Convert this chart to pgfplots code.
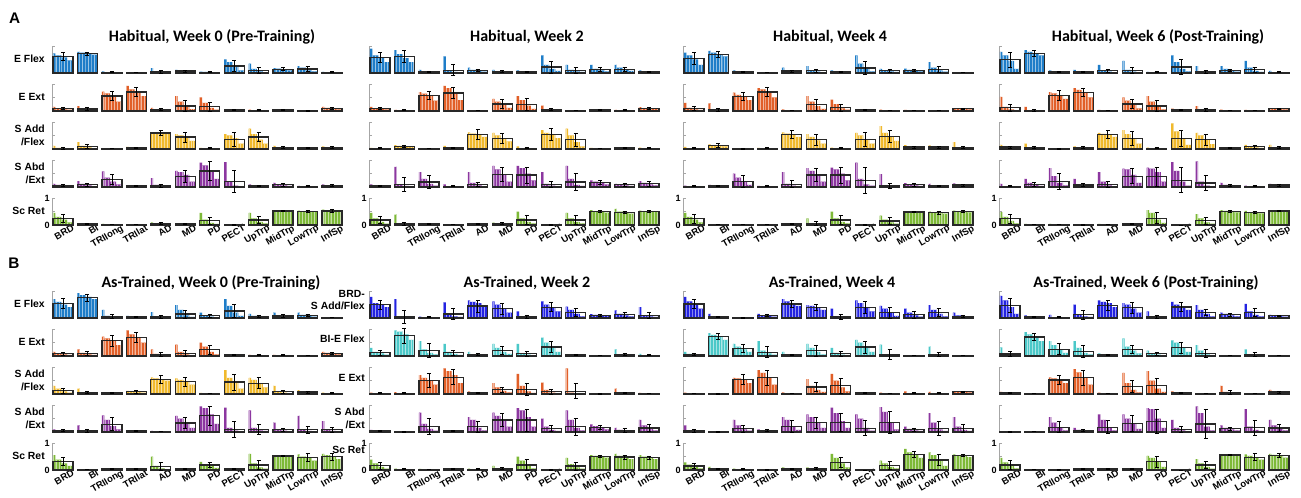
\documentclass[border=0pt]{standalone}
\usepackage{pgfplots}
\pgfplotsset{compat=1.18}
\usepackage{pgfplotstable}
\usetikzlibrary{patterns.meta}
\usepackage{fontspec}
\setmainfont{Liberation Sans}
\newfontfamily\calibri{Carlito}
\definecolor{cBlue}{RGB}{30,125,200}
\definecolor{cOrange}{RGB}{225,95,40}
\definecolor{cYellow}{RGB}{240,185,45}
\definecolor{cPurple}{RGB}{140,55,160}
\definecolor{cGreen}{RGB}{125,185,55}
\definecolor{cDBlue}{RGB}{35,35,225}
\definecolor{cCyan}{RGB}{75,200,200}
\definecolor{boxc}{RGB}{40,40,40}
\pgfplotsset{
 smallax/.style={scale only axis, width=218.25pt, height=20.25pt,
  xmin=0.55, xmax=12.45, ymin=0, ymax=1, anchor=south west, clip=false,
  axis y line*=left, axis x line*=bottom, x axis line style={draw=none},
  xtick={1,...,12}, xticklabels={}, ytick={0,0.5,1}, yticklabels={},
  tick align=inside, major tick length=2.2pt,
  x tick style={draw=none}, y tick style={draw=gray!70, line width=0.5pt},
  y axis line style={draw=gray!70, line width=0.5pt}},
 bottomrow/.style={xticklabels={BRD,BI,TRIlong,TRIlat,AD,MD,PD,PECT,UpTrp,MidTrp,LowTrp,InfSp},
  xticklabel style={rotate=30, anchor=north east, font=\fontsize{7.1}{8}\selectfont\bfseries, inner sep=1pt, xshift=7pt, yshift=-1.5pt},
  yticklabels={0,{},1}, yticklabel style={font=\fontsize{6.8}{8}\selectfont\bfseries, inner sep=1.5pt}},
 subbar/.style={ybar, draw=none, fill=#1, postaction={pattern={Lines[angle=90,distance=2.2pt,line width=0.25pt]}, pattern color=#1!45!white}}
}
\newcommand{\sax}[5]{%
\begin{axis}[smallax, at={(#1pt,#2pt)}, #5]
\addplot[subbar=#3, bar width=0.1, bar shift=-0.36] table[x expr=\coordindex+1, y=a]{#4};
\addplot[subbar=#3, bar width=0.24, bar shift=-0.19] table[x expr=\coordindex+1, y=b]{#4};
\addplot[subbar=#3, bar width=0.24, bar shift=0.05] table[x expr=\coordindex+1, y=c]{#4};
\addplot[subbar=#3, bar width=0.24, bar shift=0.29] table[x expr=\coordindex+1, y=d]{#4};
\addplot[ybar, bar width=0.82, bar shift=0, fill=none, draw=boxc, line width=0.95pt] table[x expr=\coordindex+1, y=m]{#4};
\addplot[mark=none, draw=none, error bars/.cd, y dir=both, y explicit,
  error bar style={draw=black, line width=0.6pt},
  error mark options={rotate=90, mark size=1.5pt, draw=black, line width=0.6pt}]
  table[x expr=\coordindex+1, y=m, y error=e]{#4};
\end{axis}}
\begin{document}
% ---------------- Panel A ----------------
\pgfplotstableread{
a b c d m e
0.73 0.65 0.58 0.47 0.60 0.15
0.78 0.75 0.72 0.68 0.72 0.05
0.06 0.03 0.02 0.01 0.03 0.02
0.03 0.02 0.01 0.01 0.02 0.01
0.18 0.05 0.03 0.02 0.04 0.04
0.12 0.09 0.06 0.04 0.07 0.03
0.05 0.04 0.03 0.02 0.03 0.02
0.50 0.40 0.22 0.10 0.26 0.19
0.35 0.15 0.06 0.03 0.10 0.10
0.18 0.16 0.13 0.10 0.14 0.05
0.25 0.20 0.10 0.06 0.15 0.08
0.04 0.03 0.02 0.01 0.03 0.02
}\tAaa
\pgfplotstableread{
a b c d m e
0.15 0.08 0.06 0.05 0.10 0.04
0.18 0.10 0.05 0.03 0.07 0.05
0.72 0.65 0.55 0.35 0.56 0.17
0.93 0.80 0.70 0.55 0.70 0.17
0.12 0.06 0.04 0.03 0.06 0.03
0.55 0.35 0.15 0.07 0.19 0.20
0.50 0.30 0.12 0.05 0.16 0.17
0.05 0.04 0.03 0.02 0.04 0.02
0.05 0.03 0.02 0.01 0.03 0.02
0.05 0.04 0.03 0.02 0.04 0.02
0.03 0.02 0.01 0.01 0.02 0.02
0.15 0.12 0.10 0.06 0.10 0.04
}\tAab
\pgfplotstableread{
a b c d m e
0.12 0.04 0.02 0.01 0.03 0.03
0.25 0.12 0.06 0.03 0.10 0.08
0.03 0.02 0.01 0.01 0.02 0.01
0.08 0.05 0.03 0.02 0.04 0.02
0.62 0.60 0.58 0.55 0.59 0.10
0.55 0.50 0.42 0.30 0.44 0.18
0.04 0.03 0.02 0.01 0.03 0.02
0.55 0.50 0.40 0.20 0.36 0.27
0.75 0.55 0.35 0.20 0.44 0.17
0.12 0.06 0.04 0.02 0.05 0.03
0.06 0.04 0.03 0.02 0.04 0.02
0.10 0.05 0.03 0.02 0.05 0.03
}\tAac
\pgfplotstableread{
a b c d m e
0.12 0.08 0.05 0.03 0.06 0.04
0.22 0.12 0.06 0.03 0.08 0.06
0.58 0.35 0.20 0.10 0.28 0.20
0.05 0.04 0.03 0.02 0.04 0.02
0.33 0.08 0.03 0.02 0.05 0.05
0.60 0.55 0.45 0.20 0.40 0.22
0.90 0.80 0.60 0.30 0.59 0.35
0.92 0.20 0.05 0.02 0.21 0.41
0.10 0.05 0.03 0.02 0.04 0.03
0.15 0.10 0.06 0.04 0.08 0.04
0.04 0.03 0.02 0.02 0.03 0.02
0.10 0.06 0.04 0.03 0.05 0.03
}\tAad
\pgfplotstableread{
a b c d m e
0.45 0.30 0.20 0.10 0.23 0.15
0.05 0.04 0.03 0.02 0.04 0.01
0.04 0.03 0.02 0.02 0.03 0.01
0.03 0.02 0.01 0.01 0.02 0.01
0.10 0.06 0.04 0.03 0.05 0.03
0.07 0.05 0.03 0.02 0.04 0.02
0.45 0.20 0.08 0.04 0.16 0.13
0.02 0.01 0.01 0.01 0.01 0.01
0.45 0.25 0.12 0.06 0.19 0.14
0.54 0.53 0.52 0.50 0.52 0.03
0.53 0.51 0.50 0.48 0.50 0.03
0.57 0.54 0.52 0.49 0.52 0.04
}\tAae
\pgfplotstableread{
a b c d m e
0.90 0.65 0.55 0.40 0.57 0.18
0.85 0.70 0.55 0.40 0.60 0.22
0.12 0.04 0.03 0.02 0.04 0.02
0.62 0.08 0.04 0.02 0.10 0.20
0.20 0.12 0.08 0.05 0.10 0.05
0.12 0.07 0.05 0.03 0.06 0.03
0.10 0.06 0.04 0.03 0.05 0.02
0.65 0.30 0.15 0.08 0.22 0.22
0.30 0.12 0.06 0.04 0.10 0.10
0.30 0.15 0.10 0.06 0.12 0.07
0.30 0.20 0.12 0.08 0.14 0.08
0.10 0.04 0.03 0.02 0.04 0.02
}\tAba
\pgfplotstableread{
a b c d m e
0.15 0.10 0.08 0.06 0.10 0.04
0.04 0.03 0.02 0.02 0.03 0.02
0.70 0.64 0.58 0.38 0.58 0.16
0.93 0.85 0.70 0.40 0.67 0.20
0.03 0.03 0.02 0.02 0.03 0.01
0.45 0.35 0.25 0.12 0.26 0.17
0.55 0.40 0.20 0.08 0.23 0.22
0.20 0.06 0.04 0.02 0.06 0.04
0.02 0.02 0.01 0.01 0.02 0.01
0.06 0.04 0.03 0.02 0.04 0.02
0.04 0.03 0.02 0.02 0.03 0.02
0.14 0.11 0.09 0.07 0.10 0.04
}\tAbb
\pgfplotstableread{
a b c d m e
0.04 0.03 0.02 0.02 0.03 0.02
0.14 0.12 0.10 0.07 0.10 0.05
0.02 0.02 0.01 0.01 0.02 0.01
0.12 0.05 0.04 0.03 0.05 0.02
0.62 0.57 0.52 0.45 0.53 0.18
0.60 0.50 0.40 0.28 0.40 0.18
0.10 0.03 0.02 0.01 0.03 0.02
0.70 0.60 0.52 0.40 0.53 0.22
0.75 0.50 0.25 0.10 0.34 0.25
0.04 0.03 0.02 0.02 0.03 0.01
0.06 0.04 0.03 0.02 0.04 0.02
0.05 0.03 0.02 0.02 0.03 0.02
}\tAbc
\pgfplotstableread{
a b c d m e
0.10 0.05 0.03 0.02 0.04 0.02
0.75 0.10 0.04 0.02 0.10 0.26
0.55 0.30 0.12 0.05 0.19 0.24
0.10 0.03 0.02 0.01 0.03 0.02
0.55 0.15 0.06 0.03 0.10 0.08
0.78 0.65 0.45 0.20 0.46 0.25
0.78 0.70 0.50 0.25 0.44 0.30
0.55 0.12 0.05 0.03 0.10 0.10
0.78 0.30 0.08 0.04 0.19 0.33
0.25 0.20 0.15 0.10 0.18 0.08
0.12 0.08 0.06 0.04 0.08 0.04
0.22 0.15 0.10 0.06 0.12 0.08
}\tAbd
\pgfplotstableread{
a b c d m e
0.45 0.25 0.12 0.05 0.19 0.13
0.38 0.03 0.02 0.02 0.04 0.05
0.05 0.04 0.03 0.03 0.04 0.01
0.03 0.02 0.02 0.01 0.02 0.01
0.05 0.04 0.03 0.03 0.04 0.01
0.09 0.07 0.05 0.04 0.06 0.02
0.50 0.25 0.12 0.06 0.19 0.17
0.01 0.01 0.01 0.01 0.01 0.01
0.45 0.25 0.12 0.06 0.19 0.15
0.55 0.51 0.49 0.46 0.49 0.04
0.60 0.50 0.47 0.42 0.47 0.04
0.53 0.51 0.50 0.48 0.50 0.03
}\tAbe
\pgfplotstableread{
a b c d m e
0.75 0.65 0.50 0.30 0.54 0.23
0.82 0.75 0.70 0.62 0.69 0.10
0.10 0.05 0.03 0.02 0.04 0.02
0.03 0.02 0.01 0.01 0.02 0.01
0.20 0.10 0.05 0.03 0.07 0.04
0.25 0.10 0.05 0.03 0.08 0.07
0.10 0.04 0.02 0.02 0.04 0.02
0.65 0.35 0.15 0.06 0.19 0.25
0.15 0.10 0.06 0.04 0.08 0.04
0.16 0.12 0.09 0.06 0.10 0.04
0.40 0.20 0.10 0.05 0.13 0.10
0.03 0.02 0.02 0.01 0.02 0.01
}\tAca
\pgfplotstableread{
a b c d m e
0.30 0.12 0.06 0.04 0.10 0.08
0.28 0.03 0.02 0.01 0.04 0.06
0.68 0.60 0.52 0.40 0.54 0.15
0.85 0.80 0.70 0.50 0.70 0.17
0.06 0.02 0.01 0.01 0.02 0.01
0.55 0.35 0.18 0.08 0.23 0.20
0.42 0.25 0.10 0.05 0.13 0.13
0.06 0.04 0.03 0.02 0.04 0.02
0.05 0.03 0.02 0.02 0.03 0.01
0.04 0.03 0.02 0.02 0.03 0.01
0.02 0.02 0.01 0.01 0.02 0.01
0.10 0.09 0.08 0.06 0.08 0.03
}\tAcb
\pgfplotstableread{
a b c d m e
0.08 0.03 0.02 0.02 0.03 0.02
0.17 0.14 0.12 0.10 0.13 0.06
0.02 0.01 0.01 0.01 0.01 0.01
0.04 0.03 0.02 0.02 0.03 0.02
0.62 0.57 0.52 0.45 0.53 0.15
0.55 0.45 0.32 0.20 0.34 0.20
0.05 0.03 0.02 0.02 0.03 0.02
0.60 0.50 0.35 0.20 0.36 0.25
0.85 0.60 0.45 0.30 0.46 0.23
0.14 0.08 0.05 0.04 0.07 0.03
0.13 0.08 0.05 0.04 0.07 0.04
0.25 0.06 0.03 0.02 0.06 0.05
}\tAcc
\pgfplotstableread{
a b c d m e
0.05 0.03 0.02 0.02 0.03 0.02
0.08 0.06 0.04 0.03 0.05 0.02
0.50 0.35 0.18 0.08 0.21 0.22
0.04 0.03 0.02 0.02 0.03 0.02
0.55 0.12 0.05 0.03 0.10 0.13
0.70 0.60 0.45 0.20 0.44 0.25
0.72 0.65 0.50 0.25 0.44 0.30
0.90 0.30 0.10 0.05 0.24 0.47
0.48 0.04 0.02 0.01 0.04 0.08
0.14 0.10 0.06 0.04 0.08 0.04
0.12 0.04 0.03 0.02 0.04 0.02
0.13 0.08 0.06 0.04 0.07 0.03
}\tAcd
\pgfplotstableread{
a b c d m e
0.45 0.30 0.20 0.10 0.23 0.18
0.03 0.02 0.02 0.01 0.02 0.01
0.03 0.02 0.02 0.01 0.02 0.01
0.02 0.02 0.01 0.01 0.02 0.01
0.06 0.04 0.03 0.03 0.04 0.02
0.25 0.05 0.03 0.02 0.05 0.08
0.50 0.25 0.12 0.06 0.19 0.18
0.01 0.01 0.01 0.01 0.01 0.01
0.35 0.20 0.10 0.05 0.15 0.12
0.50 0.49 0.48 0.46 0.48 0.03
0.50 0.47 0.45 0.42 0.45 0.04
0.53 0.51 0.50 0.47 0.50 0.04
}\tAce
\pgfplotstableread{
a b c d m e
0.78 0.65 0.45 0.15 0.50 0.28
0.85 0.78 0.72 0.65 0.72 0.10
0.10 0.05 0.03 0.02 0.04 0.02
0.12 0.05 0.03 0.02 0.04 0.02
0.30 0.10 0.05 0.03 0.08 0.06
0.45 0.12 0.05 0.03 0.10 0.12
0.04 0.03 0.02 0.02 0.03 0.02
0.65 0.40 0.15 0.06 0.22 0.28
0.25 0.05 0.03 0.02 0.05 0.05
0.25 0.15 0.08 0.05 0.10 0.05
0.45 0.20 0.08 0.04 0.12 0.10
0.08 0.03 0.02 0.01 0.03 0.02
}\tAda
\pgfplotstableread{
a b c d m e
0.52 0.15 0.06 0.03 0.12 0.14
0.15 0.03 0.02 0.01 0.03 0.03
0.70 0.65 0.58 0.45 0.58 0.20
0.85 0.78 0.68 0.50 0.68 0.15
0.04 0.03 0.02 0.02 0.03 0.01
0.50 0.38 0.22 0.10 0.26 0.17
0.55 0.35 0.15 0.06 0.19 0.20
0.09 0.06 0.04 0.03 0.05 0.02
0.18 0.04 0.02 0.02 0.04 0.04
0.05 0.03 0.02 0.02 0.03 0.01
0.04 0.03 0.02 0.02 0.03 0.01
0.10 0.09 0.08 0.06 0.08 0.03
}\tAdb
\pgfplotstableread{
a b c d m e
0.15 0.08 0.05 0.03 0.07 0.04
0.20 0.05 0.03 0.02 0.05 0.03
0.02 0.01 0.01 0.01 0.01 0.01
0.10 0.07 0.05 0.04 0.06 0.03
0.60 0.56 0.52 0.45 0.53 0.15
0.70 0.55 0.40 0.20 0.40 0.27
0.05 0.03 0.02 0.02 0.03 0.02
0.95 0.65 0.40 0.15 0.40 0.30
0.60 0.50 0.35 0.18 0.34 0.20
0.06 0.04 0.03 0.02 0.04 0.02
0.15 0.10 0.06 0.04 0.08 0.05
0.15 0.06 0.03 0.02 0.05 0.04
}\tAdc
\pgfplotstableread{
a b c d m e
0.12 0.03 0.02 0.02 0.03 0.02
0.30 0.15 0.08 0.04 0.10 0.06
0.70 0.40 0.15 0.06 0.21 0.29
0.30 0.10 0.05 0.03 0.07 0.06
0.55 0.20 0.06 0.03 0.10 0.12
0.68 0.65 0.45 0.15 0.40 0.28
0.72 0.68 0.55 0.20 0.38 0.35
0.92 0.60 0.20 0.05 0.25 0.46
0.95 0.20 0.05 0.03 0.15 0.27
0.15 0.08 0.05 0.04 0.06 0.04
0.05 0.03 0.02 0.02 0.03 0.02
0.12 0.08 0.06 0.04 0.07 0.03
}\tAdd
\pgfplotstableread{
a b c d m e
0.48 0.30 0.15 0.06 0.23 0.17
0.04 0.03 0.03 0.02 0.03 0.01
0.04 0.02 0.02 0.01 0.02 0.01
0.02 0.01 0.01 0.01 0.01 0.01
0.04 0.03 0.03 0.02 0.03 0.01
0.07 0.05 0.03 0.02 0.04 0.02
0.55 0.45 0.20 0.08 0.25 0.20
0.01 0.00 0.00 0.00 0.00 0.00
0.40 0.25 0.10 0.05 0.16 0.13
0.55 0.52 0.50 0.47 0.50 0.04
0.52 0.48 0.46 0.43 0.47 0.04
0.55 0.53 0.52 0.50 0.52 0.03
}\tAde
% ---------------- Panel B ----------------
\pgfplotstableread{
a b c d m e
0.70 0.60 0.50 0.40 0.54 0.17
0.92 0.85 0.78 0.70 0.75 0.12
0.30 0.08 0.03 0.02 0.05 0.07
0.08 0.05 0.03 0.02 0.04 0.03
0.22 0.06 0.03 0.02 0.05 0.06
0.48 0.30 0.10 0.04 0.15 0.15
0.20 0.10 0.05 0.03 0.08 0.05
0.70 0.45 0.20 0.08 0.26 0.24
0.15 0.08 0.04 0.03 0.06 0.03
0.20 0.08 0.05 0.03 0.07 0.06
0.20 0.12 0.08 0.05 0.10 0.05
0.03 0.02 0.01 0.01 0.02 0.01
}\tBaa
\pgfplotstableread{
a b c d m e
0.15 0.10 0.06 0.04 0.08 0.04
0.25 0.12 0.06 0.04 0.10 0.06
0.72 0.65 0.55 0.40 0.57 0.20
0.95 0.80 0.68 0.50 0.69 0.19
0.25 0.08 0.04 0.02 0.06 0.06
0.42 0.15 0.06 0.03 0.10 0.12
0.50 0.35 0.15 0.06 0.23 0.17
0.05 0.04 0.03 0.02 0.04 0.02
0.04 0.03 0.02 0.02 0.03 0.02
0.04 0.03 0.02 0.02 0.03 0.02
0.02 0.02 0.01 0.01 0.02 0.01
0.15 0.12 0.09 0.06 0.10 0.04
}\tBab
\pgfplotstableread{
a b c d m e
0.30 0.20 0.10 0.05 0.12 0.10
0.20 0.05 0.03 0.02 0.05 0.04
0.05 0.04 0.03 0.02 0.04 0.02
0.12 0.09 0.07 0.05 0.08 0.04
0.62 0.58 0.55 0.50 0.55 0.15
0.58 0.52 0.45 0.35 0.46 0.17
0.04 0.03 0.02 0.02 0.03 0.01
0.88 0.60 0.40 0.20 0.44 0.30
0.60 0.52 0.40 0.25 0.40 0.20
0.30 0.10 0.05 0.03 0.08 0.06
0.14 0.08 0.05 0.04 0.07 0.04
0.05 0.03 0.02 0.02 0.03 0.02
}\tBac
\pgfplotstableread{
a b c d m e
0.10 0.07 0.05 0.03 0.06 0.03
0.25 0.06 0.03 0.02 0.05 0.05
0.62 0.45 0.22 0.10 0.29 0.24
0.05 0.04 0.03 0.02 0.04 0.02
0.04 0.03 0.02 0.02 0.03 0.01
0.60 0.50 0.30 0.15 0.33 0.20
0.95 0.88 0.65 0.30 0.60 0.36
0.90 0.15 0.05 0.03 0.10 0.30
0.80 0.15 0.06 0.04 0.10 0.20
0.35 0.10 0.05 0.03 0.08 0.06
0.60 0.08 0.04 0.02 0.08 0.13
0.40 0.08 0.04 0.03 0.08 0.10
}\tBad
\pgfplotstableread{
a b c d m e
0.55 0.38 0.25 0.15 0.31 0.15
0.03 0.02 0.02 0.01 0.02 0.01
0.05 0.04 0.03 0.03 0.04 0.02
0.05 0.04 0.03 0.03 0.04 0.02
0.50 0.15 0.06 0.03 0.13 0.15
0.06 0.04 0.03 0.03 0.04 0.02
0.30 0.22 0.15 0.08 0.19 0.10
0.05 0.04 0.03 0.02 0.04 0.02
0.60 0.25 0.10 0.05 0.19 0.18
0.55 0.53 0.52 0.50 0.52 0.02
0.58 0.50 0.45 0.35 0.46 0.15
0.60 0.55 0.50 0.40 0.50 0.13
}\tBae
\pgfplotstableread{
a b c d m e
0.78 0.55 0.48 0.40 0.50 0.17
0.70 0.04 0.02 0.02 0.05 0.24
0.05 0.03 0.02 0.02 0.03 0.02
0.58 0.15 0.06 0.04 0.15 0.20
0.65 0.60 0.55 0.40 0.44 0.22
0.62 0.50 0.35 0.20 0.35 0.20
0.25 0.06 0.03 0.02 0.04 0.06
0.62 0.50 0.40 0.25 0.40 0.17
0.42 0.30 0.15 0.06 0.20 0.15
0.14 0.12 0.10 0.07 0.10 0.03
0.28 0.15 0.10 0.06 0.12 0.08
0.40 0.10 0.06 0.04 0.10 0.10
}\tBba
\pgfplotstableread{
a b c d m e
0.30 0.15 0.10 0.05 0.12 0.10
0.95 0.90 0.80 0.60 0.76 0.28
0.55 0.25 0.12 0.06 0.20 0.26
0.45 0.15 0.08 0.04 0.12 0.10
0.15 0.06 0.04 0.03 0.06 0.04
0.45 0.30 0.15 0.08 0.20 0.15
0.45 0.10 0.05 0.03 0.08 0.10
0.68 0.50 0.30 0.15 0.33 0.20
0.07 0.05 0.03 0.02 0.04 0.02
0.02 0.02 0.01 0.01 0.02 0.01
0.25 0.06 0.03 0.02 0.06 0.05
0.08 0.03 0.02 0.02 0.03 0.02
}\tBbb
\pgfplotstableread{
a b c d m e
0.05 0.03 0.02 0.02 0.03 0.02
0.07 0.03 0.02 0.02 0.03 0.02
0.70 0.60 0.50 0.35 0.50 0.25
0.95 0.85 0.70 0.40 0.62 0.28
0.10 0.04 0.03 0.02 0.04 0.02
0.40 0.25 0.12 0.06 0.16 0.10
0.75 0.30 0.10 0.04 0.16 0.22
0.42 0.15 0.05 0.03 0.08 0.10
0.95 0.05 0.03 0.02 0.10 0.28
0.02 0.01 0.01 0.01 0.01 0.01
0.20 0.04 0.02 0.02 0.04 0.03
0.04 0.03 0.02 0.02 0.03 0.01
}\tBbc
\pgfplotstableread{
a b c d m e
0.08 0.05 0.03 0.02 0.04 0.02
0.02 0.01 0.01 0.01 0.01 0.01
0.72 0.30 0.12 0.05 0.21 0.29
0.07 0.04 0.03 0.02 0.04 0.02
0.55 0.45 0.15 0.06 0.20 0.20
0.72 0.60 0.45 0.20 0.44 0.25
0.88 0.80 0.55 0.20 0.44 0.40
0.50 0.20 0.08 0.04 0.14 0.10
0.80 0.45 0.15 0.06 0.20 0.32
0.28 0.22 0.15 0.10 0.18 0.08
0.15 0.08 0.05 0.03 0.06 0.06
0.45 0.25 0.12 0.06 0.15 0.12
}\tBbd
\pgfplotstableread{
a b c d m e
0.38 0.25 0.12 0.05 0.16 0.12
0.05 0.03 0.02 0.02 0.03 0.02
0.04 0.03 0.03 0.02 0.03 0.01
0.06 0.04 0.03 0.03 0.04 0.02
0.05 0.03 0.02 0.02 0.03 0.02
0.15 0.07 0.04 0.03 0.06 0.04
0.50 0.35 0.15 0.06 0.19 0.20
0.02 0.01 0.01 0.01 0.01 0.01
0.45 0.22 0.10 0.05 0.15 0.15
0.55 0.52 0.50 0.46 0.50 0.05
0.60 0.52 0.46 0.40 0.48 0.07
0.55 0.50 0.45 0.40 0.46 0.06
}\tBbe
\pgfplotstableread{
a b c d m e
0.78 0.62 0.50 0.35 0.52 0.17
0.15 0.05 0.03 0.02 0.04 0.03
0.02 0.01 0.01 0.01 0.01 0.01
0.15 0.10 0.08 0.05 0.10 0.04
0.70 0.62 0.55 0.45 0.52 0.12
0.48 0.45 0.40 0.30 0.40 0.12
0.35 0.05 0.03 0.02 0.05 0.10
0.65 0.55 0.40 0.25 0.40 0.22
0.45 0.35 0.20 0.08 0.20 0.20
0.35 0.20 0.10 0.05 0.12 0.12
0.48 0.30 0.15 0.06 0.20 0.15
0.20 0.10 0.05 0.03 0.06 0.05
}\tBca
\pgfplotstableread{
a b c d m e
0.15 0.08 0.04 0.03 0.06 0.05
0.85 0.78 0.70 0.60 0.72 0.12
0.45 0.35 0.25 0.15 0.27 0.15
0.55 0.20 0.10 0.05 0.14 0.20
0.15 0.05 0.03 0.02 0.05 0.02
0.45 0.30 0.15 0.06 0.20 0.20
0.30 0.12 0.05 0.03 0.08 0.10
0.60 0.50 0.30 0.15 0.33 0.22
0.42 0.05 0.03 0.02 0.06 0.20
0.03 0.02 0.01 0.01 0.02 0.01
0.35 0.06 0.03 0.02 0.06 0.08
0.03 0.02 0.01 0.01 0.02 0.01
}\tBcb
\pgfplotstableread{
a b c d m e
0.05 0.03 0.02 0.02 0.03 0.01
0.02 0.01 0.01 0.01 0.01 0.01
0.60 0.58 0.52 0.40 0.54 0.17
0.88 0.78 0.60 0.35 0.60 0.28
0.06 0.03 0.02 0.02 0.03 0.01
0.55 0.30 0.15 0.08 0.26 0.18
0.75 0.50 0.25 0.10 0.31 0.28
0.06 0.04 0.03 0.02 0.04 0.02
0.05 0.03 0.02 0.02 0.03 0.01
0.10 0.03 0.02 0.02 0.03 0.02
0.08 0.03 0.02 0.02 0.03 0.02
0.10 0.09 0.08 0.06 0.08 0.02
}\tBcc
\pgfplotstableread{
a b c d m e
0.25 0.06 0.03 0.02 0.04 0.06
0.02 0.01 0.01 0.01 0.01 0.01
0.45 0.25 0.10 0.05 0.12 0.14
0.10 0.07 0.05 0.03 0.06 0.03
0.55 0.45 0.20 0.08 0.20 0.22
0.65 0.55 0.35 0.15 0.35 0.20
0.90 0.70 0.40 0.15 0.35 0.34
0.65 0.50 0.15 0.05 0.14 0.28
0.92 0.75 0.35 0.10 0.35 0.42
0.20 0.12 0.06 0.04 0.09 0.05
0.70 0.35 0.10 0.04 0.14 0.25
0.55 0.20 0.08 0.04 0.14 0.15
}\tBcd
\pgfplotstableread{
a b c d m e
0.28 0.20 0.12 0.06 0.15 0.10
0.12 0.04 0.03 0.02 0.04 0.02
0.05 0.03 0.02 0.02 0.03 0.02
0.02 0.01 0.01 0.01 0.01 0.01
0.10 0.04 0.03 0.02 0.04 0.02
0.10 0.07 0.05 0.04 0.06 0.03
0.60 0.45 0.25 0.10 0.28 0.20
0.01 0.00 0.00 0.00 0.00 0.00
0.35 0.25 0.12 0.06 0.16 0.15
0.78 0.65 0.55 0.45 0.58 0.10
0.65 0.55 0.35 0.15 0.37 0.20
0.58 0.55 0.52 0.48 0.53 0.04
}\tBce
\pgfplotstableread{
a b c d m e
0.82 0.65 0.40 0.15 0.47 0.25
0.10 0.06 0.04 0.03 0.05 0.02
0.12 0.03 0.02 0.02 0.03 0.02
0.50 0.12 0.06 0.04 0.12 0.16
0.65 0.60 0.55 0.40 0.47 0.17
0.55 0.50 0.35 0.20 0.38 0.20
0.25 0.05 0.03 0.02 0.04 0.06
0.60 0.50 0.42 0.30 0.41 0.15
0.48 0.30 0.15 0.06 0.20 0.12
0.20 0.15 0.10 0.06 0.12 0.05
0.52 0.25 0.12 0.06 0.20 0.15
0.12 0.09 0.07 0.05 0.08 0.03
}\tBda
\pgfplotstableread{
a b c d m e
0.32 0.10 0.05 0.03 0.07 0.10
0.88 0.80 0.70 0.55 0.70 0.12
0.55 0.40 0.25 0.12 0.25 0.20
0.55 0.30 0.12 0.06 0.18 0.22
0.10 0.05 0.03 0.02 0.05 0.02
0.65 0.35 0.20 0.10 0.24 0.16
0.20 0.10 0.05 0.03 0.08 0.06
0.58 0.50 0.30 0.15 0.31 0.20
0.40 0.20 0.06 0.03 0.08 0.15
0.03 0.02 0.01 0.01 0.02 0.01
0.25 0.06 0.03 0.02 0.06 0.06
0.03 0.02 0.01 0.01 0.02 0.01
}\tBdb
\pgfplotstableread{
a b c d m e
0.08 0.06 0.04 0.03 0.05 0.02
0.03 0.02 0.02 0.01 0.02 0.01
0.62 0.58 0.52 0.40 0.52 0.17
0.92 0.80 0.60 0.35 0.60 0.28
0.05 0.03 0.02 0.02 0.03 0.01
0.78 0.40 0.15 0.06 0.27 0.22
0.85 0.50 0.20 0.08 0.31 0.27
0.10 0.06 0.04 0.03 0.05 0.02
0.03 0.02 0.02 0.01 0.02 0.01
0.30 0.08 0.04 0.02 0.06 0.08
0.03 0.02 0.02 0.01 0.02 0.01
0.15 0.09 0.06 0.04 0.07 0.04
}\tBdc
\pgfplotstableread{
a b c d m e
0.02 0.01 0.01 0.01 0.01 0.01
0.03 0.02 0.02 0.01 0.02 0.01
0.55 0.35 0.15 0.06 0.18 0.20
0.15 0.08 0.05 0.03 0.06 0.04
0.65 0.45 0.15 0.06 0.18 0.25
0.65 0.50 0.30 0.12 0.31 0.30
0.88 0.85 0.50 0.15 0.40 0.45
0.45 0.15 0.06 0.03 0.10 0.12
0.95 0.70 0.20 0.06 0.30 0.55
0.25 0.15 0.10 0.06 0.12 0.06
0.85 0.20 0.08 0.04 0.16 0.28
0.45 0.25 0.12 0.06 0.15 0.12
}\tBdd
\pgfplotstableread{
a b c d m e
0.45 0.28 0.15 0.06 0.19 0.15
0.03 0.02 0.02 0.01 0.02 0.01
0.02 0.01 0.01 0.01 0.01 0.01
0.05 0.04 0.03 0.03 0.04 0.02
0.07 0.05 0.04 0.03 0.05 0.02
0.06 0.04 0.03 0.03 0.04 0.02
0.52 0.45 0.30 0.12 0.31 0.20
0.01 0.00 0.00 0.00 0.00 0.00
0.40 0.25 0.12 0.05 0.19 0.12
0.58 0.57 0.56 0.53 0.56 0.03
0.58 0.52 0.45 0.38 0.47 0.13
0.60 0.56 0.52 0.46 0.53 0.08
}\tBde
\begin{tikzpicture}
\path[use as bounding box] (0,0) rectangle (975.75pt,372.75pt);
% Panel A
\sax{39}{318}{cBlue}{\tAaa}{}
\sax{39}{289.5}{cOrange}{\tAab}{}
\sax{39}{261}{cYellow}{\tAac}{}
\sax{39}{232.5}{cPurple}{\tAad}{}
\sax{39}{204}{cGreen}{\tAae}{bottomrow}
\sax{276.75}{318}{cBlue}{\tAba}{}
\sax{276.75}{289.5}{cOrange}{\tAbb}{}
\sax{276.75}{261}{cYellow}{\tAbc}{}
\sax{276.75}{232.5}{cPurple}{\tAbd}{}
\sax{276.75}{204}{cGreen}{\tAbe}{bottomrow}
\sax{512.25}{318}{cBlue}{\tAca}{}
\sax{512.25}{289.5}{cOrange}{\tAcb}{}
\sax{512.25}{261}{cYellow}{\tAcc}{}
\sax{512.25}{232.5}{cPurple}{\tAcd}{}
\sax{512.25}{204}{cGreen}{\tAce}{bottomrow}
\sax{749.25}{318}{cBlue}{\tAda}{}
\sax{749.25}{289.5}{cOrange}{\tAdb}{}
\sax{749.25}{261}{cYellow}{\tAdc}{}
\sax{749.25}{232.5}{cPurple}{\tAdd}{}
\sax{749.25}{204}{cGreen}{\tAde}{bottomrow}
% Panel B
\sax{39}{134.25}{cBlue}{\tBaa}{}
\sax{39}{105.75}{cOrange}{\tBab}{}
\sax{39}{77.25}{cYellow}{\tBac}{}
\sax{39}{48.75}{cPurple}{\tBad}{}
\sax{39}{20.25}{cGreen}{\tBae}{bottomrow}
\sax{276.75}{134.25}{cDBlue}{\tBba}{}
\sax{276.75}{105.75}{cCyan}{\tBbb}{}
\sax{276.75}{77.25}{cOrange}{\tBbc}{}
\sax{276.75}{48.75}{cPurple}{\tBbd}{}
\sax{276.75}{20.25}{cGreen}{\tBbe}{bottomrow}
\sax{512.25}{134.25}{cDBlue}{\tBca}{}
\sax{512.25}{105.75}{cCyan}{\tBcb}{}
\sax{512.25}{77.25}{cOrange}{\tBcc}{}
\sax{512.25}{48.75}{cPurple}{\tBcd}{}
\sax{512.25}{20.25}{cGreen}{\tBce}{bottomrow}
\sax{749.25}{134.25}{cDBlue}{\tBda}{}
\sax{749.25}{105.75}{cCyan}{\tBdb}{}
\sax{749.25}{77.25}{cOrange}{\tBdc}{}
\sax{749.25}{48.75}{cPurple}{\tBdd}{}
\sax{749.25}{20.25}{cGreen}{\tBde}{bottomrow}
% Titles
\begin{scope}[every node/.style={font=\calibri\bfseries\fontsize{12}{14}\selectfont, inner sep=0pt}]
\node at (159pt,345pt) {Habitual, Week 0 (Pre-Training)};
\node at (395.25pt,345pt) {Habitual, Week 2};
\node at (622.5pt,345pt) {Habitual, Week 4};
\node at (868.5pt,345pt) {Habitual, Week 6 (Post-Training)};
\node at (158.25pt,160.5pt) {As-Trained, Week 0 (Pre-Training)};
\node at (395.25pt,160.5pt) {As-Trained, Week 2};
\node at (624pt,160.5pt) {As-Trained, Week 4};
\node at (859.5pt,160.5pt) {As-Trained, Week 6 (Post-Training)};
\end{scope}
\node[font=\bfseries\fontsize{11.5}{13}\selectfont, inner sep=0pt] at (11pt,358.9pt) {A};
\node[font=\bfseries\fontsize{11.5}{13}\selectfont, inner sep=0pt] at (10.5pt,175.1pt) {B};
% Row labels
\begin{scope}[every node/.style={font=\bfseries\fontsize{7.8}{9.6}\selectfont, anchor=east, align=right, inner sep=0pt}]
\node at (33.75pt,328.5pt) {E Flex};
\node at (33.75pt,300pt) {E Ext};
\node at (33.75pt,271.5pt) {S Add\\/Flex};
\node at (33.75pt,243pt) {S Abd\\/Ext};
\node at (33.75pt,214.5pt) {Sc Ret};
\node at (33.75pt,144.75pt) {E Flex};
\node at (33.75pt,116.25pt) {E Ext};
\node at (33.75pt,87.75pt) {S Add\\/Flex};
\node at (33.75pt,59.25pt) {S Abd\\/Ext};
\node at (33.75pt,30.75pt) {Sc Ret};
\node at (273.75pt,147.75pt) {BRD-\\S Add/Flex};
\node at (273.75pt,118.5pt) {BI-E Flex};
\node at (273.75pt,89.25pt) {E Ext};
\node at (273.75pt,59.25pt) {S Abd\\/Ext};
\node at (273.75pt,35.25pt) {Sc Ret};
\end{scope}
\end{tikzpicture}
\end{document}
